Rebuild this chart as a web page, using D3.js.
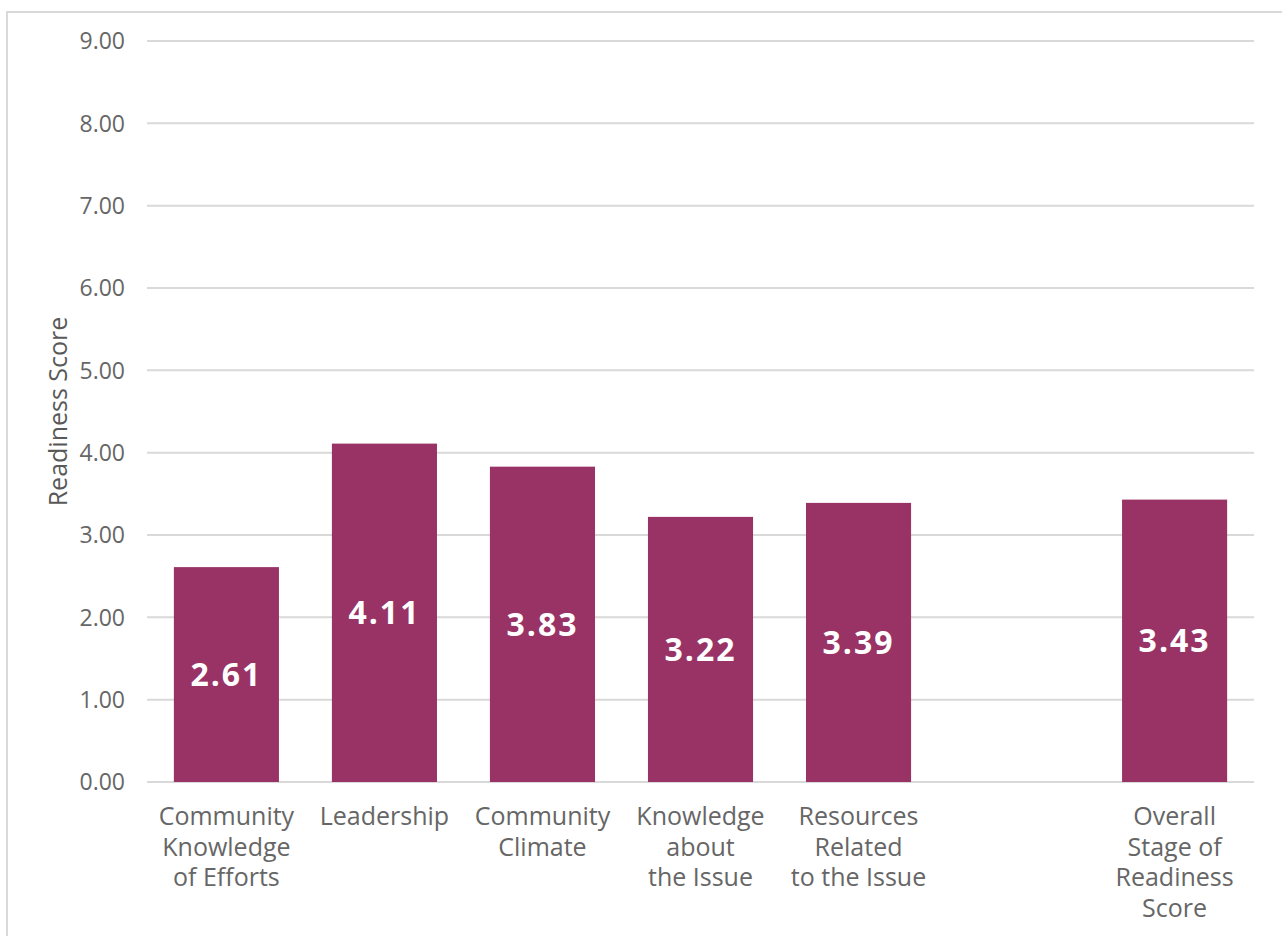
<!DOCTYPE html>
<html>
<head>
<meta charset="utf-8">
<script src="https://cdn.jsdelivr.net/npm/d3@7"></script>
<style>
  body { margin: 0; background: #fff; }
  svg { display: block; }
</style>
</head>
<body>
<div id="chart"></div>
<script>
// chart data
const categories = [
  "Community Knowledge of Efforts",
  "Leadership",
  "Community Climate",
  "Knowledge about the Issue",
  "Resources Related to the Issue",
  "",
  "Overall Stage of Readiness Score"
];
const categoryLines = [
  ["Community", "Knowledge", "of Efforts"],
  ["Leadership"],
  ["Community", "Climate"],
  ["Knowledge", "about", "the Issue"],
  ["Resources", "Related", "to the Issue"],
  [],
  ["Overall", "Stage of", "Readiness", "Score"]
];
const scores = [2.61, 4.11, 3.83, 3.22, 3.39, null, 3.43];
const yTicks = [0, 1, 2, 3, 4, 5, 6, 7, 8, 9];

const width = 1282, height = 936;
const barColor = "#993366";
const textColor = "#666666";
const gridColor = "#d9d9d9";
const font = "'Open Sans', 'Noto Sans', sans-serif";

const svg = d3.select("#chart").append("svg")
    .attr("width", width)
    .attr("height", height);

// outer frame
svg.append("rect")
    .attr("x", 7).attr("y", 12)
    .attr("width", width + 10).attr("height", height + 10)
    .attr("fill", "none")
    .attr("stroke", gridColor)
    .attr("stroke-width", 2);

const x = d3.scaleBand()
    .domain(categories.map((c, i) => i))
    .range([147, 1254])
    .paddingInner(0.335)
    .paddingOuter(0.17);

const y = d3.scaleLinear()
    .domain([0, 9])
    .range([782, 41]);

// gridlines
svg.append("g")
  .selectAll("line")
  .data(yTicks)
  .enter().append("line")
    .attr("x1", 147).attr("x2", 1254)
    .attr("y1", d => y(d)).attr("y2", d => y(d))
    .attr("stroke", gridColor)
    .attr("stroke-width", 2);

// y tick labels
svg.append("g")
  .selectAll("text")
  .data(yTicks)
  .enter().append("text")
    .attr("x", 125)
    .attr("y", d => y(d))
    .attr("dy", "0.36em")
    .attr("text-anchor", "end")
    .attr("font-family", font)
    .attr("font-size", 23)
    .attr("fill", textColor)
    .text(d => d3.format(".2f")(d));

// axis title
svg.append("text")
    .attr("transform", "translate(67," + y(4.5) + ") rotate(-90)")
    .attr("text-anchor", "middle")
    .attr("font-family", font)
    .attr("font-size", 25)
    .attr("fill", "#595959")
    .text("Readiness Score");

const bars = categories.map((c, i) => ({ i: i, name: c, value: scores[i] }))
    .filter(d => d.value !== null);

svg.append("g")
  .selectAll("rect")
  .data(bars)
  .enter().append("rect")
    .attr("x", d => x(d.i))
    .attr("y", d => y(d.value))
    .attr("width", x.bandwidth())
    .attr("height", d => y(0) - y(d.value))
    .attr("fill", barColor);

// value labels, centred in the bar
svg.append("g")
  .selectAll("text")
  .data(bars)
  .enter().append("text")
    .attr("x", d => x(d.i) + x.bandwidth() / 2)
    .attr("y", d => (y(d.value) + y(0)) / 2)
    .attr("dy", "0.36em")
    .attr("text-anchor", "middle")
    .attr("font-family", font)
    .attr("font-weight", "bold")
    .attr("font-size", 32)
    .attr("letter-spacing", 2)
    .attr("fill", "#ffffff")
    .text(d => d3.format(".2f")(d.value));

// category labels
const cat = svg.append("g")
  .selectAll("text")
  .data(categoryLines)
  .enter().append("text")
    .attr("text-anchor", "middle")
    .attr("font-family", font)
    .attr("font-size", 25)
    .attr("fill", textColor);

cat.each(function(lines, i) {
  d3.select(this).selectAll("tspan")
    .data(lines)
    .enter().append("tspan")
      .attr("x", x(i) + x.bandwidth() / 2)
      .attr("y", (d, j) => 825 + j * 30.5)
      .text(d => d);
});
</script>
</body>
</html>
